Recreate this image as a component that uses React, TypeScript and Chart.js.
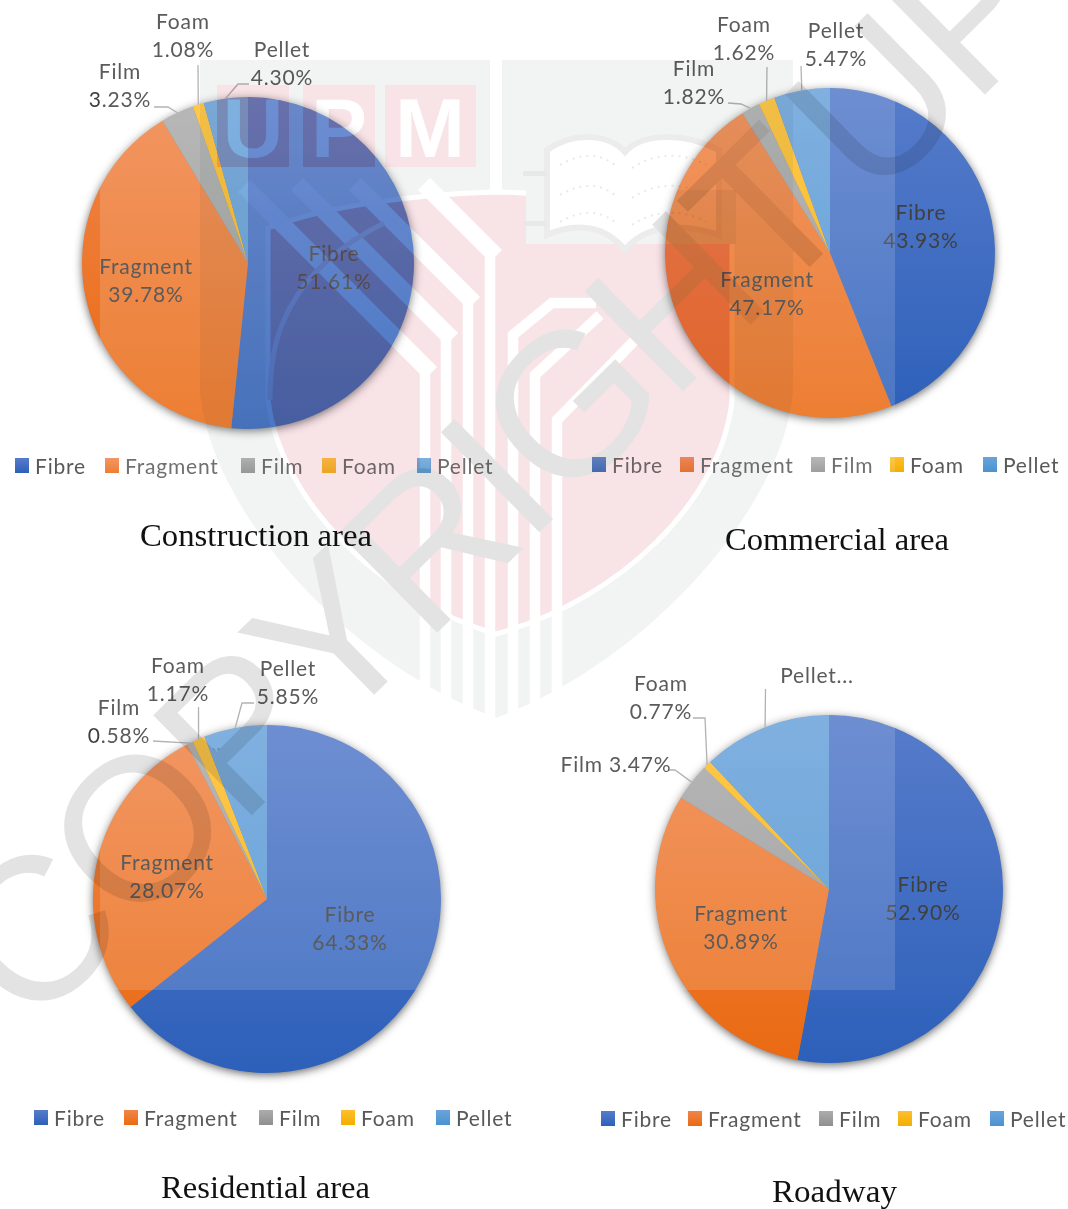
import React, { useEffect, useRef } from "react";
import { Chart, registerables } from "chart.js";

Chart.register(...registerables);

const categories = ["Fibre", "Fragment", "Film", "Foam", "Pellet"];
const constructionValues = [51.61, 39.78, 3.23, 1.08, 4.3];
const commercialValues = [43.93, 47.17, 1.82, 1.62, 5.47];
const residentialValues = [64.33, 28.07, 0.58, 1.17, 5.85];
const roadwayValues = [52.9, 30.89, 3.47, 0.77, 11.97];
const chartTitles = ["Construction area", "Commercial area", "Residential area", "Roadway"];

const gradientTop = ["#577ccb", "#f0854a", "#acacac", "#ffbf2e", "#6ba3db"];
const gradientBottom = ["#2d60ba", "#ea6a12", "#8f8f8f", "#f2ae00", "#4a93d0"];
const labelFont = "21px Lato";
const labelSpacing = "0.8px";

type Panel = {
  values: number[];
  box: [number, number, number, number];
  pie: [number, number, number];
  legendX: number[];
  legendY: number;
  labels: { at: [number, number]; oneLine?: boolean; nameOnly?: string }[];
  leaders: ([number, number][] | null)[];
};

const panels: Panel[] = [
  {
    values: constructionValues,
    box: [0, 0, 534, 600],
    pie: [248, 263, 166],
    legendX: [15, 105, 241, 322, 417],
    legendY: 466,
    labels: [
      { at: [334, 268] },
      { at: [146, 281] },
      { at: [120, 86] },
      { at: [183, 36] },
      { at: [282, 64] },
    ],
    leaders: [null, null, [[154, 107], [168, 107]], [[198, 65]], [[249, 84], [238, 84]]],
  },
  {
    values: commercialValues,
    box: [534, 0, 534, 600],
    pie: [830, 253, 165],
    legendX: [592, 680, 811, 890, 983],
    legendY: 465,
    labels: [
      { at: [921, 227] },
      { at: [767, 294] },
      { at: [694, 83] },
      { at: [744, 39] },
      { at: [836, 45] },
    ],
    leaders: [null, null, [[728, 103], [741, 104]], [[767, 67]], [[801, 66]]],
  },
  {
    values: residentialValues,
    box: [0, 600, 534, 609],
    pie: [267, 899, 174],
    legendX: [34, 124, 259, 341, 436],
    legendY: 1118,
    labels: [
      { at: [350, 929] },
      { at: [167, 877] },
      { at: [119, 722] },
      { at: [178, 680] },
      { at: [288, 683] },
    ],
    leaders: [null, null, [[153, 741]], [[198.5, 707]], [[254, 703], [242, 703]]],
  },
  {
    values: roadwayValues,
    box: [534, 600, 534, 609],
    pie: [829, 889, 174],
    legendX: [601, 688, 819, 898, 990],
    legendY: 1119,
    labels: [
      { at: [923, 899] },
      { at: [741, 928] },
      { at: [616, 765], oneLine: true },
      { at: [661, 698] },
      { at: [817, 676], nameOnly: "Pellet..." },
    ],
    leaders: [null, null, [[668, 770], [675, 770]], [[693, 718], [705, 718]], [[765.5, 689]]],
  },
];

const titleLayout: { x: number; y: number; w: number }[] = [
  { x: 140, y: 546, w: 232 },
  { x: 725, y: 550, w: 224 },
  { x: 161, y: 1198, w: 209 },
  { x: 772, y: 1202, w: 125 },
];

const piePlugin = (panel: Panel) => ({
  id: "pieDecor",
  beforeDatasetsDraw(chart: any) {
    const { ctx } = chart;
    const [cx, cy, r] = panel.pie;
    const [ox, oy] = panel.box;
    ctx.save();
    ctx.shadowColor = "rgba(0,0,0,0.65)";
    ctx.shadowBlur = 10;
    ctx.shadowOffsetY = 2;
    ctx.fillStyle = "#777";
    ctx.beginPath();
    ctx.arc(cx - ox, cy - oy, r - 0.5, 0, Math.PI * 2);
    ctx.fill();
    ctx.restore();
  },
  afterDatasetsDraw(chart: any) {
    const { ctx } = chart;
    const [ox, oy] = panel.box;
    const meta = chart.getDatasetMeta(0);
    ctx.save();
    ctx.translate(-ox, -oy);
    ctx.strokeStyle = "#a6a6a6";
    ctx.lineWidth = 1.3;
    panel.leaders.forEach((pts, i) => {
      if (!pts) return;
      const arc = meta.data[i].getProps(["x", "y", "startAngle", "endAngle", "outerRadius"], true);
      const mid = (arc.startAngle + arc.endAngle) / 2;
      ctx.beginPath();
      pts.forEach(([x, y], k) => (k ? ctx.lineTo(x, y) : ctx.moveTo(x, y)));
      ctx.lineTo(arc.x + ox + Math.cos(mid) * arc.outerRadius, arc.y + oy + Math.sin(mid) * arc.outerRadius);
      ctx.stroke();
    });
    ctx.font = labelFont;
    ctx.letterSpacing = labelSpacing;
    ctx.textAlign = "center";
    ctx.textBaseline = "middle";
    ctx.fillStyle = "#404040";
    panel.labels.forEach((lab, i) => {
      const name = categories[i];
      const pct = `${panel.values[i].toFixed(2)}%`;
      const [x, y] = lab.at;
      if (lab.nameOnly) ctx.fillText(lab.nameOnly, x, y);
      else if (lab.oneLine) ctx.fillText(`${name} ${pct}`, x, y);
      else {
        ctx.fillText(name, x, y - 14);
        ctx.fillText(pct, x, y + 14);
      }
    });
    ctx.textAlign = "left";
    panel.legendX.forEach((x, i) => {
      const g = ctx.createLinearGradient(0, panel.legendY - 8, 0, panel.legendY + 7);
      g.addColorStop(0, gradientTop[i]);
      g.addColorStop(1, gradientBottom[i]);
      ctx.fillStyle = g;
      ctx.fillRect(x, panel.legendY - 8, 14, 15);
      ctx.fillStyle = "#595959";
      ctx.fillText(categories[i], x + 20, panel.legendY + 1);
    });
    ctx.restore();
  },
});

function PieCanvas({ panel }: { panel: Panel }) {
  const ref = useRef<HTMLCanvasElement>(null);
  useEffect(() => {
    const [ox, oy, w, h] = panel.box;
    const [cx, cy, r] = panel.pie;
    const chart = new Chart(ref.current as HTMLCanvasElement, {
      type: "pie",
      data: {
        labels: categories,
        datasets: [
          {
            data: panel.values,
            borderWidth: 0,
            backgroundColor: (c: any) => {
              const area = c.chart.chartArea;
              const i = c.dataIndex ?? 0;
              if (!area) return gradientTop[i];
              const g = c.chart.ctx.createLinearGradient(0, area.top, 0, area.bottom);
              g.addColorStop(0, gradientTop[i]);
              g.addColorStop(1, gradientBottom[i]);
              return g;
            },
          },
        ],
      },
      options: {
        responsive: false,
        animation: false,
        layout: {
          padding: {
            left: cx - r - ox,
            top: cy - r - oy,
            right: ox + w - cx - r,
            bottom: oy + h - cy - r,
          },
        },
        plugins: { legend: { display: false }, tooltip: { enabled: false }, title: { display: false } },
      },
      plugins: [piePlugin(panel)],
    } as any);
    return () => chart.destroy();
  }, [panel]);
  const [ox, oy, w, h] = panel.box;
  return (
    <canvas
      ref={ref}
      width={w}
      height={h}
      style={{ position: "absolute", left: ox, top: oy, width: w, height: h, display: "block" }}
    />
  );
}

const stripes = [
  "M425 718V367",
  "M446 718V333",
  "M468 718V297",
  "M490 718V250",
  "M513 718V335L552 303L596 303",
  "M535 718V375L600 315",
  "M557 718V420L640 335",
];
const diagonalBands = [
  "M425 367L250 192",
  "M446 333L303 190",
  "M468 297L361 190",
  "M490 250L430 190",
];

function PinkLayer() {
  return (
    <>
      <path
        d="M268 228C330 205 420 194 496 192C580 194 660 205 732 228V400C722 500 620 600 496 634C380 600 280 500 268 400Z"
        fill="#f8e3e7"
        stroke="#fff"
        strokeWidth={5}
      />
      <path d="M526 190H736V244H526Z" fill="#f2f4f4" />
      {stripes.map((d) => (
        <path key={d} d={d} fill="none" stroke="#fff" strokeWidth={10.5} />
      ))}
      {diagonalBands.map((d) => (
        <path key={d} d={d} fill="none" stroke="#fff" strokeWidth={17} strokeLinecap="square" />
      ))}
      <path d="M384 223Q310 260 284 320Q270 350 270 400" fill="none" stroke="#fdf3f5" strokeWidth={5} />
      <rect x={217} y={85} width={72} height={82} fill="#f8e3e7" />
      <rect x={303} y={85} width={72} height={82} fill="#f8e3e7" />
      <rect x={385} y={85} width={91} height={82} fill="#f8e3e7" />
      <g fontFamily="'Liberation Sans'" fontWeight="bold" fontSize={84} fill="#fff" textAnchor="middle">
        <text x={253} y={157}>U</text>
        <text x={339} y={157}>P</text>
        <text x={430} y={157}>M</text>
      </g>
    </>
  );
}

function Watermark() {
  return (
    <svg
      width={1068}
      height={1209}
      style={{ position: "absolute", left: 0, top: 0, mixBlendMode: "multiply", pointerEvents: "none" }}
    >
      <defs>
        <clipPath id="pies">
          {panels.map((p, i) => (
            <circle key={i} cx={p.pie[0]} cy={p.pie[1]} r={p.pie[2]} />
          ))}
        </clipPath>
      </defs>
      <path
        d="M200 60H793V390C785 505 650 660 496 718C340 660 208 505 200 390Z"
        fill="#f2f4f4"
      />
      <rect x={490} y={60} width={12} height={140} fill="#fff" />
      <PinkLayer />
      <path
        d="M547 150C575 130 610 135 625 152C640 135 680 130 719 150V235C680 222 645 225 625 250C605 225 575 222 547 235Z"
        fill="#fff"
        stroke="#ececec"
        strokeWidth={6}
      />
      <path d="M560 165C585 150 605 155 618 168M632 168C650 155 680 150 706 165M560 195C585 180 605 185 618 198M632 198C650 185 680 180 706 195M560 222C585 207 605 212 618 225M632 225C650 212 680 207 706 222" fill="none" stroke="#e9e9e9" strokeWidth={2} strokeDasharray="2 5" />
      <rect x={523} y={171} width={24} height={5} fill="#e8e8e8" />
      <rect x={523} y={221} width={24} height={5} fill="#e8e8e8" />
      <text x={212} y={758} textAnchor="middle" fontFamily="'Liberation Sans'" fontSize={15} fill="#c9c9c9">
        UPM
      </text>
      <text
        transform="translate(30 1033) rotate(-44.5)"
        fontFamily="'Liberation Sans'"
        fontSize={204}
        letterSpacing={-6}
        fill="#e3e3e3"
      >
        COPYRIGHT<tspan dx={-25}> UPM</tspan>
      </text>
      <g clipPath="url(#pies)" style={{ mixBlendMode: "multiply" }}>
        <rect x={0} y={0} width={1068} height={1209} fill="#fff" />
        <g style={{ mixBlendMode: "multiply" }}>
          <PinkLayer />
        </g>
      </g>
    </svg>
  );
}

export default function App() {
  return (
    <div
      style={{
        position: "absolute",
        left: 0,
        top: 0,
        width: 1068,
        height: 1209,
        overflow: "hidden",
        background: "#fff",
        isolation: "isolate",
      }}
    >
      {panels.map((p, i) => (
        <PieCanvas key={i} panel={p} />
      ))}
      <div
        style={{
          position: "absolute",
          left: 100,
          top: 0,
          width: 795,
          height: 990,
          background: "rgba(255,255,255,0.14)",
        }}
      />
      <svg width={1068} height={1209} style={{ position: "absolute", left: 0, top: 0 }}>
        {chartTitles.map((t, i) => (
          <text
            key={t}
            x={titleLayout[i].x}
            y={titleLayout[i].y}
            textLength={titleLayout[i].w}
            lengthAdjust="spacingAndGlyphs"
            fontFamily="'Liberation Serif'"
            fontSize={32}
            fill="#111"
          >
            {t}
          </text>
        ))}
      </svg>
      <Watermark />
    </div>
  );
}
